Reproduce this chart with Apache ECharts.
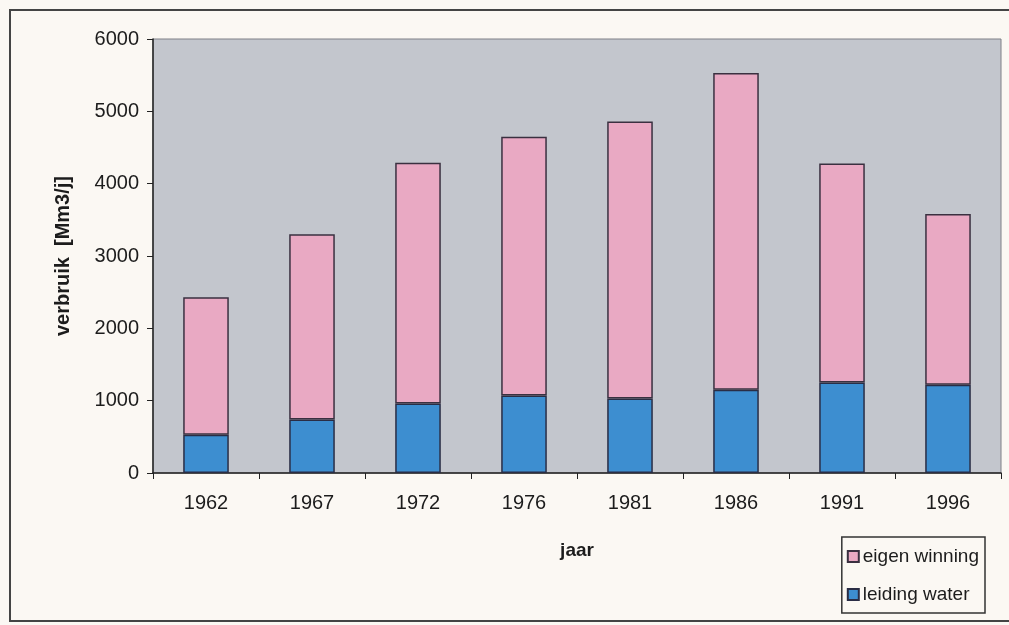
<!DOCTYPE html>
<html>
<head>
<meta charset="utf-8">
<script src="https://cdn.jsdelivr.net/npm/echarts@6/dist/echarts.min.js"></script>
<style>
  html, body { margin: 0; padding: 0; background: #fbf8f3; }
  #chart { width: 1009px; height: 625px; }
</style>
</head>
<body>
<div id="chart"></div>
<script>
// Water use per year, split by source (Mm3 per year)
const years = ['1962', '1967', '1972', '1976', '1981', '1986', '1991', '1996'];
const leidingWater = [530, 740, 960, 1070, 1030, 1150, 1250, 1220];
const totaalVerbruik = [2430, 3300, 4290, 4650, 4860, 5530, 4280, 3580];
const eigenWinning = totaalVerbruik.map((t, i) => t - leidingWater[i]);
const yTicks = [0, 1000, 2000, 3000, 4000, 5000, 6000];

const font = '"Liberation Sans", Arial, sans-serif';
const ink = '#1c1c1c';
const chart = echarts.init(document.getElementById('chart'));

chart.setOption({
  backgroundColor: '#fbf8f3',
  animation: false,
  graphic: [{
    type: 'rect',
    shape: { x: 10, y: 10, width: 1010, height: 611 },
    style: { fill: 'none', stroke: '#444', lineWidth: 2 },
    silent: true
  }],
  grid: {
    left: 153, top: 39, right: 8, bottom: 152,
    show: true,
    backgroundColor: '#c3c6cd',
    borderColor: '#7e8087',
    borderWidth: 1
  },
  legend: {
    orient: 'vertical',
    right: 24, top: 537,
    data: ['eigen winning', 'leiding water'],
    itemWidth: 11, itemHeight: 11,
    itemGap: 19,
    icon: 'rect',
    backgroundColor: '#fbf8f3',
    borderColor: '#333',
    borderWidth: 1.5,
    borderRadius: 0,
    padding: [10, 6, 9, 5],
    textStyle: { fontFamily: font, fontSize: 19, color: ink, padding: [0, 0, 0, -1] }
  },
  xAxis: {
    type: 'category',
    data: years,
    name: 'jaar',
    nameLocation: 'middle',
    nameGap: 68,
    nameTextStyle: { fontFamily: font, fontSize: 19, fontWeight: 'bold', color: ink },
    axisLine: { lineStyle: { color: '#222', width: 1.5 } },
    axisTick: { show: true, length: 6, inside: false, lineStyle: { color: '#222' } },
    axisLabel: { fontFamily: font, fontSize: 20, color: ink, margin: 20 },
    splitLine: { show: false }
  },
  yAxis: {
    type: 'value',
    min: yTicks[0],
    max: yTicks[yTicks.length - 1],
    interval: 1000,
    name: 'verbruik  [Mm3/j]',
    nameLocation: 'middle',
    nameGap: 80,
    nameTextStyle: { fontFamily: font, fontSize: 20, fontWeight: 'bold', color: ink },
    axisLine: { show: true, lineStyle: { color: '#222', width: 1.5 } },
    axisTick: { show: true, length: 6, lineStyle: { color: '#222' } },
    axisLabel: {
      fontFamily: font, fontSize: 20, color: ink, margin: 14,
      formatter: v => String(v)
    },
    splitLine: { show: false }
  },
  series: [
    {
      name: 'leiding water',
      type: 'bar',
      stack: 'verbruik',
      data: leidingWater,
      barWidth: '43%',
      itemStyle: { color: '#3d8ed0', borderColor: '#2a2d45', borderWidth: 1.5 }
    },
    {
      name: 'eigen winning',
      type: 'bar',
      stack: 'verbruik',
      data: eigenWinning,
      barWidth: '43%',
      itemStyle: { color: '#e9a9c3', borderColor: '#3a3040', borderWidth: 1.5 }
    }
  ]
});
</script>
</body>
</html>
